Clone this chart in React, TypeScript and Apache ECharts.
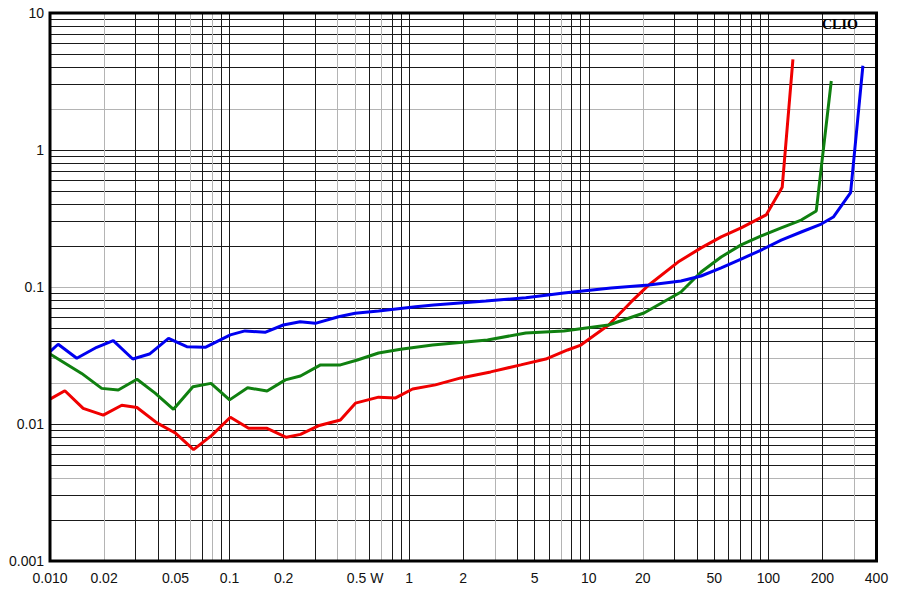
import React, { useEffect, useRef } from 'react';
import * as echarts from 'echarts';

// Axis tick labels
const xTickValues = [0.01, 0.02, 0.05, 0.1, 0.2, 0.5, 1, 2, 5, 10, 20, 50, 100, 200, 400];
const xTickLabels = ['0.010', '0.02', '0.05', '0.1', '0.2', '0.5 W', '1', '2', '5', '10', '20', '50', '100', '200', '400'];
const yTickValues = [0.001, 0.01, 0.1, 1, 10];
const yTickLabels = ['0.001', '0.01', '0.1', '1', '10'];

// Series: power (W) and distortion values
const redPower = [0.01, 0.0121, 0.0153, 0.0198, 0.0251, 0.0305, 0.0394, 0.0498, 0.063, 0.0798, 0.101, 0.1276, 0.1617, 0.207, 0.248, 0.312, 0.414, 0.502, 0.675, 0.84, 1.045, 1.4, 1.94, 2.84, 4.18, 5.76, 7.62, 9.03, 12.9, 17.2, 21.6, 31.4, 42.2, 54.6, 70.5, 97.2, 119.4, 137];
const redValue = [0.0152, 0.0175, 0.013, 0.0116, 0.0137, 0.0132, 0.0102, 0.0086, 0.0065, 0.0083, 0.0112, 0.0093, 0.0093, 0.008, 0.0084, 0.0097, 0.0107, 0.0142, 0.0157, 0.0155, 0.018, 0.0193, 0.0217, 0.024, 0.027, 0.0298, 0.0347, 0.0377, 0.0528, 0.0778, 0.1035, 0.152, 0.193, 0.232, 0.27, 0.336, 0.534, 4.59];

const greenPower = [0.01, 0.015, 0.0194, 0.024, 0.0305, 0.0385, 0.0487, 0.0625, 0.0788, 0.1, 0.126, 0.1617, 0.2045, 0.248, 0.321, 0.414, 0.515, 0.675, 0.896, 1.35, 2.73, 4.46, 7.26, 12.9, 20.3, 32.6, 42.2, 54.6, 70.5, 91.2, 117.9, 152.4, 184.8, 224];
const greenValue = [0.0324, 0.0234, 0.0182, 0.0177, 0.0212, 0.0168, 0.0128, 0.0187, 0.0198, 0.015, 0.0184, 0.0174, 0.021, 0.0224, 0.027, 0.027, 0.0293, 0.033, 0.0351, 0.0377, 0.041, 0.0462, 0.0478, 0.0528, 0.0646, 0.0919, 0.1286, 0.1656, 0.203, 0.236, 0.27, 0.308, 0.359, 3.19];

const bluePower = [0.01, 0.0111, 0.0141, 0.0182, 0.0225, 0.0289, 0.0358, 0.0457, 0.0578, 0.0732, 0.101, 0.1218, 0.1575, 0.199, 0.247, 0.3, 0.404, 0.5, 0.675, 1.086, 1.37, 2.67, 4.46, 7.26, 13.3, 21.6, 32.6, 42.2, 54.6, 70.5, 91.2, 117.9, 152.4, 197, 230, 287, 336];
const blueValue = [0.0337, 0.0382, 0.0302, 0.0363, 0.0406, 0.0298, 0.0324, 0.0422, 0.0367, 0.0363, 0.0447, 0.0478, 0.0467, 0.0528, 0.0558, 0.0543, 0.0607, 0.0643, 0.0668, 0.0718, 0.0739, 0.079, 0.0835, 0.0904, 0.0984, 0.1035, 0.1106, 0.1203, 0.1377, 0.16, 0.186, 0.22, 0.252, 0.288, 0.324, 0.488, 4.12];

// Grid structure (1..9 per decade)
const multipliers = [1, 2, 3, 4, 5, 6, 7, 8, 9];
const xDecades = [0.01, 0.1, 1, 10, 100];
const yDecades = [0.001, 0.01, 0.1, 1];
const xGreyLines = [0.02, 0.06, 0.08, 0.4, 0.5, 0.7, 3, 7, 20, 300];
const yGreyLines = [0.004, 0.02, 0.03, 0.1, 2];

const same = (a: number, b: number) => Math.abs(a - b) / b < 1e-6;
const buildGrid = (decades: number[], max: number) => {
  const out: number[] = [];
  decades.forEach((d) => multipliers.forEach((m) => {
    const v = parseFloat((d * m).toPrecision(6));
    if (v <= max * 1.000001) out.push(v);
  }));
  return out;
};

const labelFor = (values: number[], labels: string[]) => (v: number) => {
  const i = values.findIndex((t) => same(v, t));
  return i >= 0 ? labels[i] : '';
};

const zip = (a: number[], b: number[]) => a.map((x, i) => [x, b[i]]);

export default function App() {
  const ref = useRef<HTMLDivElement>(null);
  useEffect(() => {
    if (!ref.current) return;
    const chart = echarts.init(ref.current, undefined, { renderer: 'svg' });
    const xGrid = buildGrid(xDecades, 400);
    const yGrid = buildGrid(yDecades, 10);
    const gridBlack = '#1a1a1a';
    const gridGrey = '#b4b4b4';
    const xColors = xGrid.map((v) => (xGreyLines.some((g) => same(v, g)) ? gridGrey : gridBlack));
    const yColors = yGrid.map((v) => (yGreyLines.some((g) => same(v, g)) ? gridGrey : gridBlack));
    const xFmt = labelFor(xTickValues, xTickLabels);
    const yFmt = labelFor(yTickValues, yTickLabels);
    const font = 'Liberation Sans, Arial, sans-serif';

    const lineSeries = (name: string, color: string, data: number[][]) => ({
      name,
      type: 'line',
      data,
      showSymbol: false,
      symbol: 'none',
      smooth: false,
      lineStyle: { color, width: 3 },
      z: 3,
    });

    chart.setOption({
      animation: false,
      backgroundColor: '#fff',
      grid: {
        left: 50,
        top: 13,
        right: 23.5,
        bottom: 31,
        show: true,
        borderColor: '#000',
        borderWidth: 3,
        backgroundColor: 'transparent',
        z: 5,
      },
      xAxis: {
        type: 'log',
        logBase: 10,
        min: 0.01,
        max: 400,
        axisLine: { show: false },
        axisTick: { show: false, customValues: xGrid },
        splitLine: { show: true, lineStyle: { color: xColors, width: 1 } },
        axisLabel: {
          customValues: xTickValues,
          color: '#111',
          fontSize: 14,
          fontFamily: font,
          margin: 10,
          hideOverlap: false,
          formatter: (v: number) => {
            const s = xFmt(v);
            return s === '0.5 W' ? '{p|}0.5 W' : s;
          },
          rich: { p: { width: 20 } },
        },
      },
      yAxis: {
        type: 'log',
        logBase: 10,
        min: 0.001,
        max: 10,
        axisLine: { show: false },
        axisTick: { show: false, customValues: yGrid },
        splitLine: { show: true, lineStyle: { color: yColors, width: 1 } },
        axisLabel: {
          customValues: yTickValues,
          color: '#111',
          fontSize: 14,
          fontFamily: font,
          margin: 6,
          formatter: (v: number) => yFmt(v),
        },
      },
      graphic: [
        {
          type: 'text',
          left: 822,
          top: 17,
          style: {
            text: 'CLIO',
            fill: '#000',
            font: 'bold 14px "Liberation Serif", "Times New Roman", serif',
          },
          z: 10,
        },
      ],
      series: [
        lineSeries('red', '#f00000', zip(redPower, redValue)),
        lineSeries('green', '#108010', zip(greenPower, greenValue)),
        lineSeries('blue', '#0000f0', zip(bluePower, blueValue)),
      ],
    });
    return () => chart.dispose();
  }, []);

  return (
    <div
      ref={ref}
      style={{ position: 'fixed', left: 0, top: 0, width: 900, height: 592, background: '#fff' }}
    />
  );
}
